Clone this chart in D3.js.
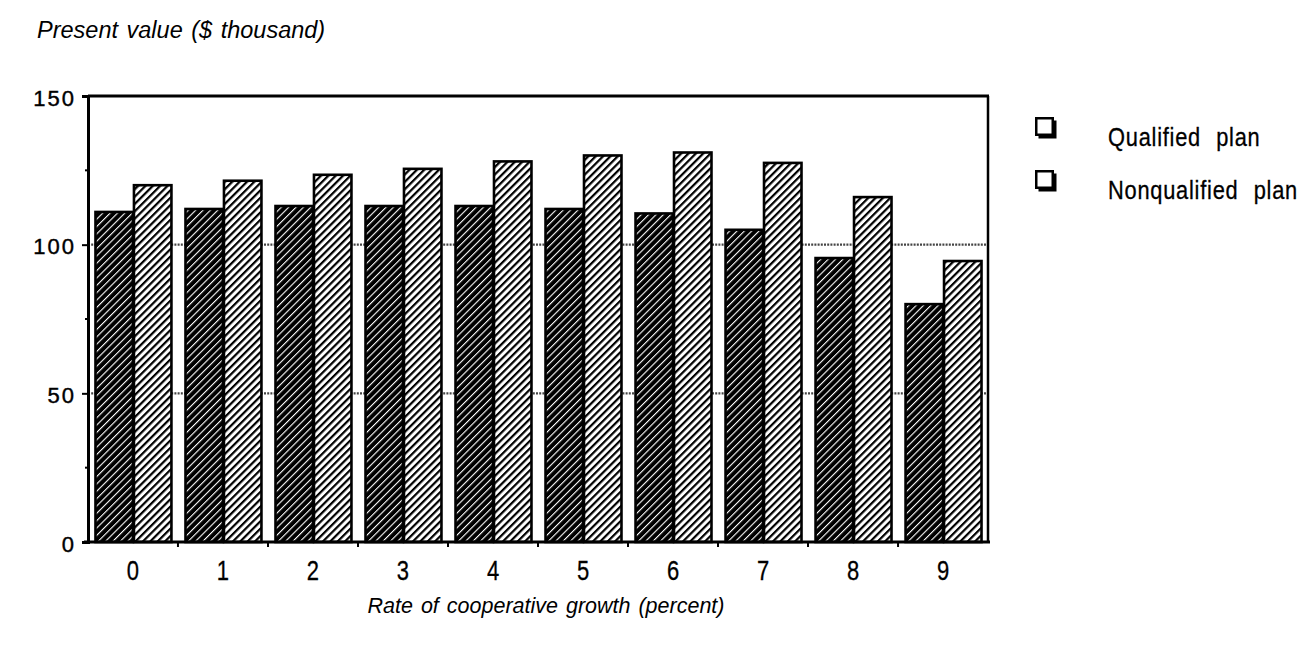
<!DOCTYPE html>
<html>
<head>
<meta charset="utf-8">
<script src="https://cdn.jsdelivr.net/npm/d3@7"></script>
<style>
  html, body { margin: 0; padding: 0; background: #fff; }
  svg { display: block; }
</style>
</head>
<body>
<svg id="chart" width="1312" height="646"></svg>
<script>
// Growth rates (percent) on the x axis
const categories = ["0", "1", "2", "3", "4", "5", "6", "7", "8", "9"];
// Present value, $ thousand
const qualified    = [111, 112, 113, 113, 113, 112, 110.5, 105, 95.5, 80];
const nonqualified = [120, 121.5, 123.5, 125.5, 128, 130, 131, 127.5, 116, 94.5];
const seriesNames  = ["Qualified plan", "Nonqualified plan"];
const yTicks = [0, 50, 100, 150];
const yMinorTicks = [25, 75, 125];
const gridValues = [50, 100];

const svg = d3.select("#chart");
const margin = { left: 88, right: 324, top: 96, bottom: 104 };
const W = 1312, H = 646;
const x0 = margin.left, x1 = W - margin.right, yTop = margin.top, yBot = H - margin.bottom;
const sans = "Liberation Sans, Arial, Helvetica, sans-serif";

const defs = svg.append("defs");
// light hatch: white with heavy black diagonals
const P = 5.2;
const pLight = defs.append("pattern").attr("id", "hatchLight")
  .attr("patternUnits", "userSpaceOnUse").attr("width", P).attr("height", P)
  .attr("patternTransform", "rotate(45)");
pLight.append("rect").attr("width", P).attr("height", P).attr("fill", "#fff");
pLight.append("rect").attr("x", 0).attr("width", 2.2).attr("height", P).attr("fill", "#000");
// dark hatch: black with thin white diagonals
const pDark = defs.append("pattern").attr("id", "hatchDark")
  .attr("patternUnits", "userSpaceOnUse").attr("width", P).attr("height", P)
  .attr("patternTransform", "rotate(45)");
pDark.append("rect").attr("width", P).attr("height", P).attr("fill", "#000");
pDark.append("rect").attr("x", 0).attr("width", 1.1).attr("height", P).attr("fill", "#fff");

const x = d3.scaleBand().domain(categories).range([x0, x1]).paddingInner(0.145).paddingOuter(0.072);
const xs = d3.scaleBand().domain(seriesNames).range([0, x.bandwidth()]);
const y = d3.scaleLinear().domain([0, 150]).range([yBot, yTop]);

// dotted gridlines
svg.append("g").selectAll("line").data(gridValues).join("line")
  .attr("x1", x0).attr("x2", x1)
  .attr("y1", d => y(d)).attr("y2", d => y(d))
  .attr("stroke", "#444").attr("stroke-width", 2.4).attr("stroke-dasharray", "2,1.2");

// bars
const fills = ["url(#hatchDark)", "url(#hatchLight)"];
const data = categories.map((c, i) => ({ c, vals: [qualified[i], nonqualified[i]] }));
const groups = svg.append("g").selectAll("g").data(data).join("g")
  .attr("transform", d => `translate(${x(d.c)},0)`);
groups.selectAll("rect").data(d => d.vals.map((v, k) => ({ v, k }))).join("rect")
  .attr("x", d => xs(seriesNames[d.k]) + 1)
  .attr("width", xs.bandwidth() - 1)
  .attr("y", d => y(d.v))
  .attr("height", d => yBot - y(d.v))
  .attr("fill", d => fills[d.k])
  .attr("stroke", "#000").attr("stroke-width", 2.6);

// frame: top and right
svg.append("line").attr("x1", x0).attr("x2", x1 + 1).attr("y1", yTop).attr("y2", yTop)
  .attr("stroke", "#000").attr("stroke-width", 3);
svg.append("line").attr("x1", x1).attr("x2", x1).attr("y1", yTop).attr("y2", yBot)
  .attr("stroke", "#000").attr("stroke-width", 2.5);

// y axis
const yAxis = d3.axisLeft(y).tickValues(yTicks).tickSize(6).tickPadding(6).tickFormat(d3.format("d"));
const gy = svg.append("g").attr("transform", `translate(${x0},0)`).call(yAxis);
gy.select(".domain").attr("stroke-width", 3);
gy.selectAll(".tick line").attr("stroke-width", 2);
gy.selectAll("text").attr("font-family", sans)
  .attr("font-size", 22).attr("letter-spacing", 2).attr("fill", "#000")
  .attr("stroke", "#000").attr("stroke-width", 0.4).attr("dy", "0.42em");
gy.append("g").selectAll("line").data(yMinorTicks).join("line")
  .attr("x1", -3).attr("x2", 0).attr("y1", d => y(d)).attr("y2", d => y(d))
  .attr("stroke", "#000").attr("stroke-width", 2);

// x axis: ticks at group boundaries, labels centred in groups
const gx = svg.append("g").attr("transform", `translate(0,${yBot})`);
gx.append("line").attr("x1", x0 - 4).attr("x2", x1 + 2).attr("y1", 0).attr("y2", 0)
  .attr("stroke", "#000").attr("stroke-width", 3);
const step = x.step();
const boundaries = categories.slice(1).map(c => x(c) - x.paddingInner() * step / 2);
gx.selectAll("line.tk").data(boundaries).join("line").attr("class", "tk")
  .attr("x1", d => d).attr("x2", d => d).attr("y1", 0).attr("y2", 5)
  .attr("stroke", "#000").attr("stroke-width", 2);
gx.selectAll("text").data(categories).join("text")
  .attr("transform", d => `translate(${x(d) + x.bandwidth() / 2},38) scale(0.8,1)`)
  .attr("text-anchor", "middle")
  .attr("font-family", sans).attr("stroke", "#000").attr("stroke-width", 0.3)
  .attr("font-size", 27.5).text(d => d);

// axis titles
svg.append("text").attr("x", 37).attr("y", 38)
  .attr("font-family", sans).attr("font-style", "italic")
  .attr("font-size", 23.5).attr("word-spacing", 2).text("Present value ($  thousand)");
svg.append("text").attr("x", 546).attr("y", 613).attr("text-anchor", "middle")
  .attr("font-family", sans).attr("font-style", "italic")
  .attr("font-size", 21.5).attr("word-spacing", 2).text("Rate of cooperative growth (percent)");

// legend: shadowed boxes
const leg = svg.append("g").selectAll("g").data(seriesNames).join("g")
  .attr("transform", (d, i) => `translate(1035,${117 + i * 53})`);
leg.append("rect").attr("x", 3.5).attr("y", 3.5).attr("width", 18).attr("height", 18).attr("fill", "#000");
leg.append("rect").attr("x", 1.25).attr("y", 1.25).attr("width", 16.5).attr("height", 16.5)
  .attr("fill", "#fff").attr("stroke", "#000").attr("stroke-width", 2.5);
leg.append("text")
  .attr("transform", "translate(73,29) scale(0.84,1)")
  .attr("font-family", sans).attr("letter-spacing", 0.9).attr("word-spacing", 10)
  .attr("stroke", "#000").attr("stroke-width", 0.3)
  .attr("font-size", 26).text(d => d);
</script>
</body>
</html>
